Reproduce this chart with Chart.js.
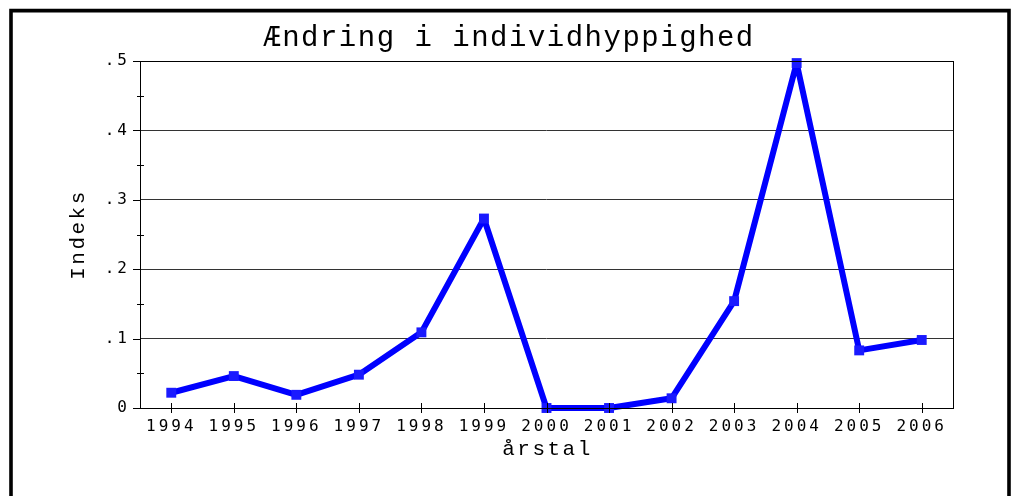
<!DOCTYPE html>
<html><head><meta charset="utf-8">
<script src="https://cdn.jsdelivr.net/npm/chart.js@4/dist/chart.umd.min.js"></script>
<style>html,body{margin:0;padding:0;background:#fff;overflow:hidden}</style>
</head><body>
<canvas id="c" width="1013" height="496"></canvas>
<script>
const years = ['1994','1995','1996','1997','1998','1999','2000','2001','2002','2003','2004','2005','2006'];
const indeks = [0.022,0.046,0.019,0.048,0.109,0.273,0.0,0.0,0.014,0.154,0.497,0.083,0.098];
const yTickValues = [0, 0.1, 0.2, 0.3, 0.4, 0.5];
const yTickLabels = ['0', '.1', '.2', '.3', '.4', '.5'];
const yMinorValues = [0.05, 0.15, 0.25, 0.35, 0.45];
const chartTitle = 'Ændring i individhyppighed';
const xTitle = 'årstal';
const yTitle = 'Indeks';

const tickFont = {family: 'DejaVu Sans Mono', size: 16};
const serif = '"Courier New", Courier, "Nimbus Mono PS", "Nimbus Mono L", FreeMono, "Liberation Mono", monospace';

const deco = {
  id: 'deco',
  beforeDraw(chart) {
    chart.ctx.letterSpacing = '3px';
  },
  afterDraw(chart) {
    const ctx = chart.ctx, a = chart.chartArea;
    const xs = chart.scales.x, ys = chart.scales.y;
    ctx.save();
    ctx.letterSpacing = '0px';
    ctx.strokeStyle = '#000'; ctx.lineWidth = 1;
    ctx.strokeRect(Math.round(a.left) + 0.5, Math.round(a.top) + 0.5, Math.round(a.right - a.left), Math.round(a.bottom - a.top));
    ctx.beginPath();
    for (let i = 0; i < years.length; i++) {
      const x = Math.round(xs.getPixelForValue(i)) + 0.5;
      ctx.moveTo(x, a.bottom - 5); ctx.lineTo(x, a.bottom + 5);
    }
    yTickValues.forEach(v => {
      const y = Math.round(ys.getPixelForValue(v)) + 0.5;
      ctx.moveTo(a.left - 7, y); ctx.lineTo(a.left, y);
    });
    yMinorValues.forEach(v => {
      const y = Math.round(ys.getPixelForValue(v)) + 0.5;
      ctx.moveTo(a.left - 3, y); ctx.lineTo(a.left + 4, y);
    });
    ctx.stroke();
    ctx.lineWidth = 3.6;
    ctx.beginPath();
    ctx.moveTo(11, 520); ctx.lineTo(11, 10.6); ctx.lineTo(1009, 10.6); ctx.lineTo(1009, 520);
    ctx.stroke();
    ctx.fillStyle = '#000';
    ctx.textAlign = 'center'; ctx.textBaseline = 'middle';
    ctx.font = '29px ' + serif;
    ctx.letterSpacing = '1.5px';
    ctx.fillText(chartTitle, 509, 38);
    ctx.font = '21px ' + serif;
    ctx.letterSpacing = '2.5px';
    ctx.fillText(xTitle, (a.left + a.right) / 2 + 1, 449);
    ctx.save();
    ctx.translate(78, (a.top + a.bottom) / 2);
    ctx.rotate(-Math.PI / 2);
    ctx.fillText(yTitle, 0, 0);
    ctx.restore();
    ctx.restore();
  }
};

new Chart(document.getElementById('c'), {
  type: 'line',
  data: {
    labels: years,
    datasets: [{
      data: indeks,
      borderColor: '#0000ff',
      borderWidth: 6,
      borderJoinStyle: 'bevel',
      tension: 0,
      pointStyle: 'rect',
      pointRadius: 7,
      pointBorderWidth: 0,
      pointBackgroundColor: '#1a1aff',
      clip: false
    }]
  },
  options: {
    responsive: false,
    animation: false,
    devicePixelRatio: 1,
    layout: {padding: {left: 13, right: 60, top: 61, bottom: 59}},
    plugins: {legend: {display: false}, title: {display: false}, tooltip: {enabled: false}},
    scales: {
      x: {
        type: 'category',
        offset: true,
        grid: {display: false, drawTicks: false},
        border: {display: false},
        ticks: {color: '#000', font: tickFont, padding: 9, maxRotation: 0, autoSkip: false},
        afterFit(s) { s.height = 29; }
      },
      y: {
        min: 0, max: 0.5,
        grid: {color: '#333', lineWidth: 1, drawTicks: false},
        border: {display: false},
        afterBuildTicks(s) { s.ticks = yTickValues.map(v => ({value: v})); },
        ticks: {
          color: '#000', font: tickFont, padding: 10,
          callback(v) { const i = yTickValues.findIndex(t => Math.abs(t - v) < 1e-9); return i >= 0 ? yTickLabels[i] : ''; }
        },
        afterFit(s) { s.width = 127; }
      }
    }
  },
  plugins: [deco]
});
</script>
</body></html>
